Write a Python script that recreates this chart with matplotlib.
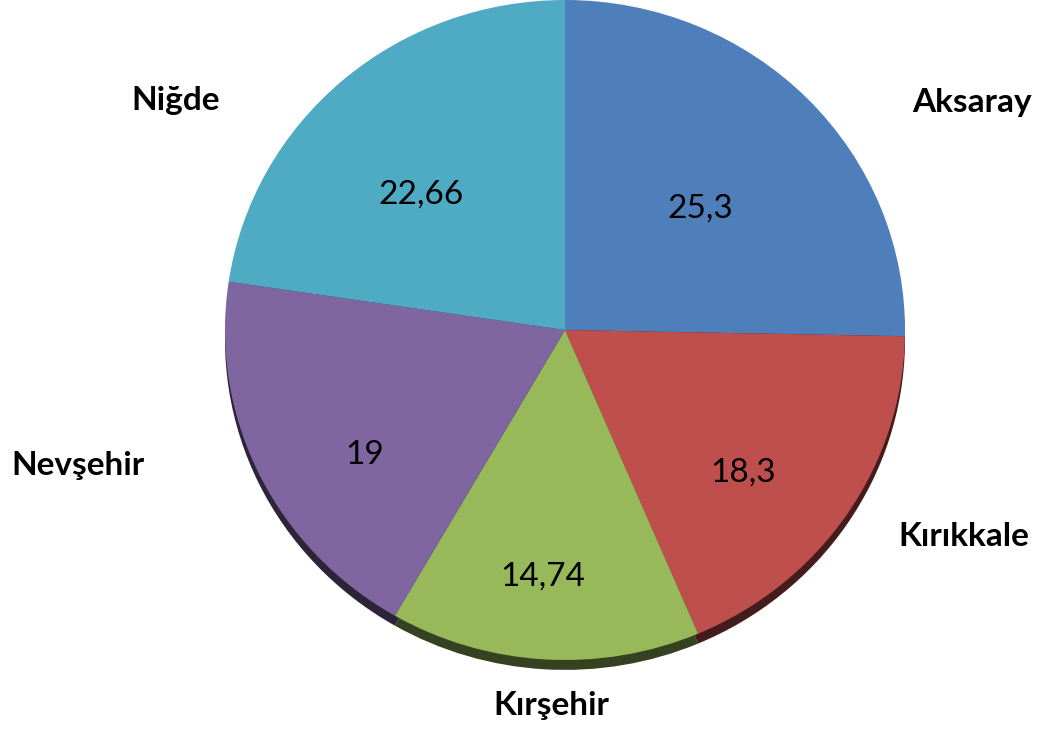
import matplotlib
matplotlib.use("Agg")
import numpy as np
import matplotlib.pyplot as plt
import matplotlib.colors as mcolors

# data
cities = ["Aksaray", "Kırıkkale", "Kırşehir", "Nevşehir", "Niğde"]
values = [25.3, 18.3, 14.74, 19, 22.66]
value_labels = ["25,3", "18,3", "14,74", "19", "22,66"]
colors = ["#4f7fba", "#be4f4c", "#98b95a", "#8066a0", "#4faac4"]

# label placement (angle offset from slice middle in degrees, radius)
inner_place = [(-1.7, 0.54), (-5.5, 0.68), (-1.5, 0.75), (7.0, 0.70), (5.0, 0.59)]
outer_place = [(-14.5, 1.38), (6.0, 1.33), (1.5, 1.14), (-9.8, 1.49), (17.9, 1.34)]

plt.rcParams["font.family"] = ["Lato", "DejaVu Sans"]

fig = plt.figure(figsize=(10.39, 7.30), dpi=100)
ax = fig.add_axes([0, 0, 1, 1])

def darker(c, f=0.35):
    r, g, b = mcolors.to_rgb(c)
    return (r * f, g * f, b * f)

# shadow rim under the pie
ax.pie(values, colors=[darker(c) for c in colors], startangle=90,
       counterclock=False, center=(0, -0.03),
       wedgeprops=dict(linewidth=0))
wedges, _ = ax.pie(values, colors=colors, startangle=90, counterclock=False,
                   wedgeprops=dict(linewidth=0))

ax.set_aspect("auto")
ax.set_xlim(-565 / 340, 474 / 340)
ax.set_ylim(-400 / 330, 330 / 330)
ax.axis("off")

for w, lab, city, (da, r), (db, R) in zip(wedges, value_labels, cities,
                                            inner_place, outer_place):
    mid = (w.theta1 + w.theta2) / 2
    a = np.deg2rad(mid + da)
    ax.text(r * np.cos(a), r * np.sin(a), lab, ha="center", va="center",
            fontsize=24, color="black")
    b = np.deg2rad(mid + db)
    ax.text(R * np.cos(b), R * np.sin(b), city, ha="center", va="center",
            fontsize=24, fontweight="bold", color="black")

fig.savefig("out.png", dpi=100)
